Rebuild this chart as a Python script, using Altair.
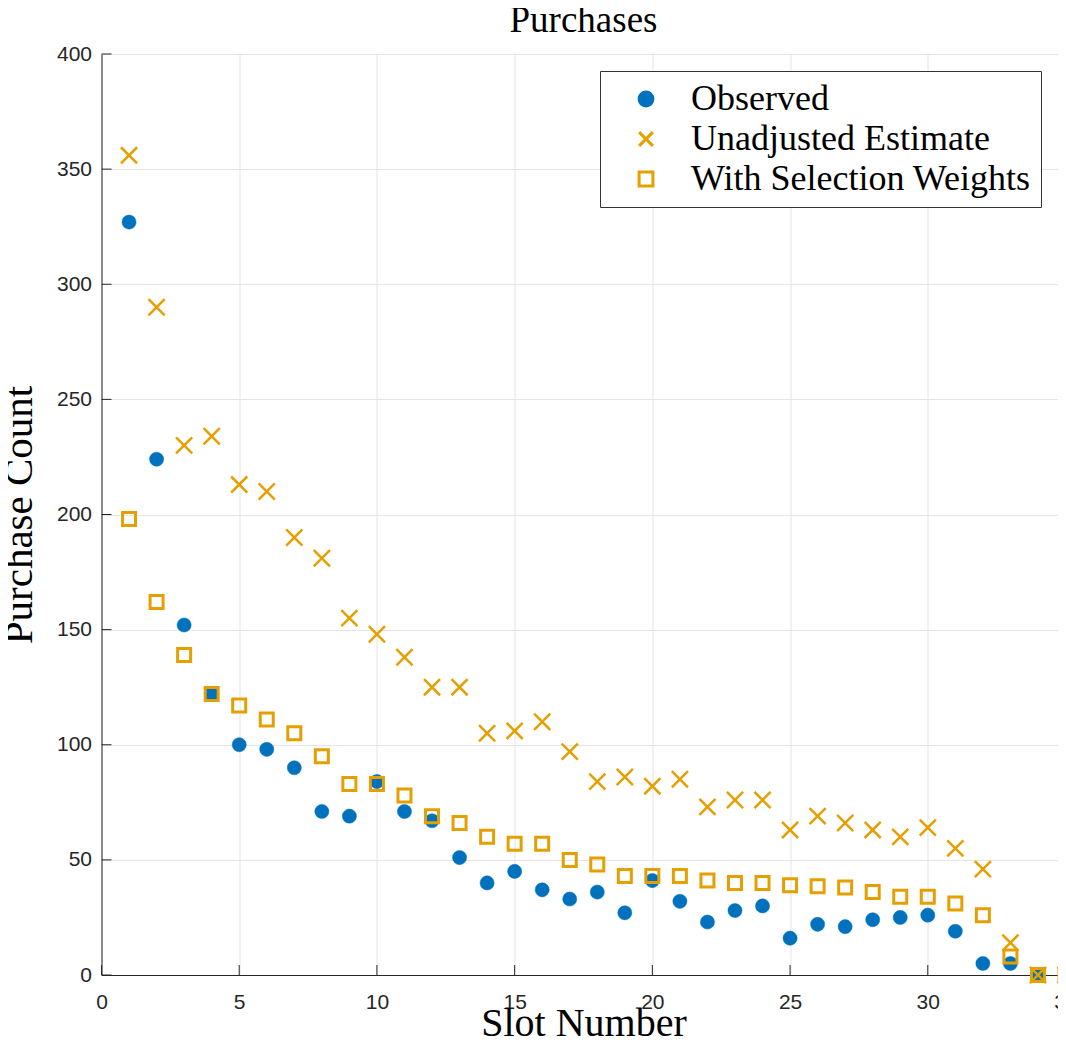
import altair as alt
import pandas as pd

slots = list(range(1, 36))
observed = [327, 224, 152, 122, 100, 98, 90, 71, 69, 84, 71, 67, 51, 40, 45, 37, 33, 36,
            27, 41, 32, 23, 28, 30, 16, 22, 21, 24, 25, 26, 19, 5, 5, 0, 0]
unadjusted = [356, 290, 230, 234, 213, 210, 190, 181, 155, 148, 138, 125, 125, 105, 106, 110,
              97, 84, 86, 82, 85, 73, 76, 76, 63, 69, 66, 63, 60, 64, 55, 46, 14, 0, 0]
weighted = [198, 162, 139, 122, 117, 111, 105, 95, 83, 83, 78, 69, 66, 60, 57, 57, 50, 48,
            43, 43, 43, 41, 40, 40, 39, 38.5, 38, 36, 34, 34, 31, 26, 8, 0, 0]
series_names = ["Observed", "Unadjusted Estimate", "With Selection Weights"]
x_ticks = [0, 5, 10, 15, 20, 25, 30, 35]
y_ticks = [0, 50, 100, 150, 200, 250, 300, 350, 400]
chart_title = "Purchases"

rows = []
for name, vals in zip(series_names, [observed, unadjusted, weighted]):
    for s, v in zip(slots, vals):
        rows.append({"slot": s, "count": v, "series": name})
df = pd.DataFrame(rows)

W, H = 964, 921
BLUE = "#0072BD"
ORANGE = "#E69F00"
AX = "#262626"

xscale = alt.Scale(domain=[0, 35], nice=False, zero=False)
yscale = alt.Scale(domain=[0, 400], nice=False)
leg = alt.Legend(title=None, orient="none", legendX=498.5, legendY=17)

base = alt.Chart(df).encode(
    x=alt.X("slot:Q", scale=xscale,
            axis=alt.Axis(values=x_ticks, title="Slot Number", titleX=W / 2, titleY=60,
                          titleBaseline="alphabetic", labelPadding=16, tickSize=0,
                          labelFlush=False)),
    y=alt.Y("count:Q", scale=yscale,
            axis=alt.Axis(values=y_ticks, title="Purchase Count", titleX=-70, titleY=H / 2,
                          titleAngle=-90, titleBaseline="alphabetic", labelPadding=10,
                          tickSize=0, labelFlush=False, titleFontSize=41)),
    shape=alt.Shape("series:N", scale=alt.Scale(domain=series_names,
                    range=["circle", "M-1,-1L1,1M-1,1L1,-1", "square"]), legend=leg),
    stroke=alt.Stroke("series:N", scale=alt.Scale(domain=series_names,
                      range=[BLUE, ORANGE, ORANGE]), legend=leg),
    fill=alt.Fill("series:N", scale=alt.Scale(domain=series_names,
                  range=[BLUE, "transparent", "transparent"]), legend=leg),
)

obs_layer = base.transform_filter(alt.datum.series == series_names[0]).mark_point(
    opacity=1, size=200, strokeWidth=0.5)
una_layer = base.transform_filter(alt.datum.series == series_names[1]).mark_point(
    opacity=1, size=260, strokeWidth=2.5)
wei_layer = base.transform_filter(alt.datum.series == series_names[2]).mark_point(
    opacity=1, size=169, strokeWidth=3)

left_ticks = alt.Chart(pd.DataFrame({"v": y_ticks})).mark_rule(color=AX, strokeWidth=1).encode(
    y=alt.Y("v:Q", scale=yscale), x=alt.value(0), x2=alt.value(10))
bottom_ticks = alt.Chart(pd.DataFrame({"v": x_ticks})).mark_rule(color=AX, strokeWidth=1).encode(
    x=alt.X("v:Q", scale=xscale), y=alt.value(H), y2=alt.value(H - 10))

title_text = alt.Chart(pd.DataFrame({"t": [chart_title]})).mark_text(
    font="Liberation Serif", fontSize=37, color="black", align="center",
    baseline="alphabetic").encode(text="t:N", x=alt.value(W / 2), y=alt.value(-22))

chart = alt.layer(left_ticks, bottom_ticks, obs_layer, una_layer, wei_layer, title_text).properties(
    width=W, height=H,
    padding={"left": 93.5, "top": 46, "right": -7.5, "bottom": 68},
    autosize=alt.AutoSizeParams(type="none"),
).configure_view(stroke=None).configure_axis(
    domainColor=AX, domainWidth=1, gridColor="#e4e4e4", gridWidth=1,
    labelFont="Liberation Sans", labelFontSize=21, labelColor=AX,
    titleFont="Liberation Serif", titleFontSize=40, titleFontWeight="normal", titleColor="black",
).configure_legend(
    strokeColor="#333333", fillColor="white",
    padding=10, cornerRadius=0, labelFont="Liberation Serif", labelFontSize=36,
    labelColor="black", labelLimit=600, symbolOffset=18, labelOffset=27, rowPadding=4,
    symbolSize=190, symbolStrokeWidth=3,
)

chart.save("out.html", embed_options={"renderer": "svg", "actions": False})
